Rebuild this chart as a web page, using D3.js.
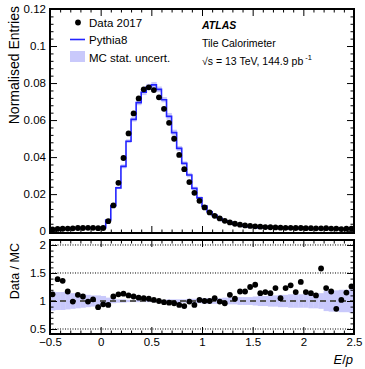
<!DOCTYPE html>
<html>
<head>
<meta charset="utf-8">
<script src="https://cdn.jsdelivr.net/npm/d3@7"></script>
<style>
  html, body { margin: 0; padding: 0; background: #fff; }
  svg { display: block; font-family: 'Liberation Sans', Arial, Helvetica, sans-serif; }
</style>
</head>
<body>
<div id="app"></div>
<script>
// E/p binning: 60 bins of 0.05 from -0.5 to 2.5
const binLow = -0.5
const binWidth = 0.05

// Pythia8 MC, normalised entries per bin
const mcValues = [
  0.0009, 0.0009, 0.0010, 0.0012, 0.0015, 0.0015, 0.0016, 0.0018, 0.0017, 0.0018, 0.0018,
  0.0060, 0.0137, 0.0234, 0.0350, 0.0486, 0.0604, 0.0694, 0.0750, 0.0780, 0.0790,
  0.0766, 0.0710, 0.0620, 0.0532, 0.0447, 0.0366, 0.0303, 0.0231, 0.0180,
  0.0135, 0.0105, 0.0085, 0.0068, 0.0056, 0.0048, 0.0037, 0.0033, 0.0027, 0.0024,
  0.0021, 0.0019, 0.0019, 0.0018, 0.0017, 0.0016, 0.0016, 0.0015, 0.0014, 0.0014,
  0.0013, 0.0013, 0.0013, 0.0013, 0.0012, 0.0012, 0.0012, 0.0012, 0.0012, 0.0011
]

// Data 2017
const dataValues = [
  0.0010, 0.0012, 0.0013, 0.0014, 0.0015, 0.0017, 0.0017, 0.0018, 0.0018, 0.0016, 0.0017,
  0.0054, 0.0139, 0.0261, 0.0395, 0.0528, 0.0636, 0.0717, 0.0766, 0.0777, 0.0762,
  0.0723, 0.0661, 0.0585, 0.0499, 0.0412, 0.0335, 0.0265, 0.0207, 0.0164,
  0.0128, 0.0101, 0.0083, 0.0069, 0.0056, 0.0047, 0.0040, 0.0035, 0.0031, 0.0028,
  0.0026, 0.0024, 0.0022, 0.0021, 0.0020, 0.0019, 0.0018, 0.0018, 0.0017, 0.0017,
  0.0016, 0.0016, 0.0015, 0.0015, 0.0016, 0.0014, 0.0014, 0.0011, 0.0013, 0.0014
]

// Data / MC
const ratioValues = [
  1.12, 1.39, 1.36, 1.17, 0.99, 1.11, 1.08, 0.99, 1.03, 0.89,
  0.94, 0.93, 1.08, 1.12, 1.13, 1.10, 1.08, 1.06, 1.05, 1.04,
  1.02, 1.00, 0.98, 0.97, 0.96, 0.93, 0.91, 0.99, 0.93, 1.02,
  1.00, 1.00, 1.05, 0.99, 0.96, 1.11, 1.04, 1.17, 1.17, 1.25,
  1.29, 1.14, 1.16, 1.14, 1.23, 1.05, 1.23, 1.28, 1.16, 1.34,
  1.16, 1.14, 1.10, 1.58, 1.23, 1.17, 0.86, 1.02, 1.15, 1.26
]

// MC stat. uncertainty (relative)
const relUnc = [
  0.17, 0.16, 0.16, 0.15, 0.14, 0.13, 0.12, 0.11, 0.10, 0.10, 0.09,
  0.06, 0.04, 0.03, 0.03, 0.02, 0.02, 0.02, 0.02, 0.02,
  0.02, 0.02, 0.02, 0.03, 0.03, 0.03, 0.03, 0.04, 0.04, 0.04,
  0.05, 0.05, 0.05, 0.05, 0.06, 0.06, 0.06, 0.07, 0.07, 0.07,
  0.08, 0.09, 0.09, 0.10, 0.10, 0.11, 0.11, 0.12, 0.12, 0.12,
  0.12, 0.13, 0.13, 0.14, 0.18, 0.19, 0.19, 0.20, 0.20, 0.21
]

const xTicks = [-0.5, 0, 0.5, 1, 1.5, 2, 2.5]
const xTickLabels = ['\u22120.5', '0', '0.5', '1', '1.5', '2', '2.5']
const yTopTicks = [0, 0.02, 0.04, 0.06, 0.08, 0.1, 0.12]
const yTopTickLabels = ['0', '0.02', '0.04', '0.06', '0.08', '0.1', '0.12']
const yRatioTicks = [0.5, 1, 1.5, 2]
const yRatioTickLabels = ['0.5', '1', '1.5', '2']

const W = 365, H = 369
const left = 50, right = 354
const top1 = 9, bot1 = 233
const top2 = 240, bot2 = 334

const bandColor = '#c9c9fb'
const mcColor = '#2424ff'

const bins = mcValues.map((mc, i) => ({
  lo: binLow + i * binWidth,
  hi: binLow + (i + 1) * binWidth,
  mid: binLow + (i + 0.5) * binWidth,
  mc,
  data: dataValues[i],
  ratio: ratioValues[i],
  unc: relUnc[i]
}))

const x = d3.scaleLinear().domain([-0.5, 2.5]).range([left, right])
const yTop = d3.scaleLinear().domain([-0.001, 0.12]).range([bot1, top1])
const yRat = d3.scaleLinear().domain([0.411, 2.089]).range([bot2, top2])

const svg = d3.select('#app').append('svg').attr('width', W).attr('height', H)

// ---------- top panel ----------
const p1 = svg.append('g')

p1.append('g')
  .selectAll('rect')
  .data(bins)
  .join('rect')
  .attr('x', d => x(d.lo))
  .attr('width', d => x(d.hi) - x(d.lo) + 0.3)
  .attr('y', d => yTop(d.mc * (1 + d.unc)))
  .attr('height', d => Math.max(1.5, yTop(d.mc * (1 - d.unc)) - yTop(d.mc * (1 + d.unc))))
  .attr('fill', bandColor)

const stepPts = bins.map(d => [d.lo, d.mc]).concat([[2.5, mcValues[mcValues.length - 1]]])
p1.append('path')
  .attr('d', d3.line().x(d => x(d[0])).y(d => yTop(d[1])).curve(d3.curveStepAfter)(stepPts))
  .attr('fill', 'none')
  .attr('stroke', mcColor)
  .attr('stroke-width', 1.6)

p1.append('g')
  .selectAll('circle')
  .data(bins)
  .join('circle')
  .attr('cx', d => x(d.mid))
  .attr('cy', d => yTop(d.data))
  .attr('r', 2.9)
  .attr('fill', '#000')

// ---------- ratio panel ----------
const p2 = svg.append('g')

p2.append('g')
  .selectAll('rect')
  .data(bins)
  .join('rect')
  .attr('x', d => x(d.lo))
  .attr('width', d => x(d.hi) - x(d.lo) + 0.3)
  .attr('y', d => yRat(1 + d.unc))
  .attr('height', d => yRat(1 - d.unc) - yRat(1 + d.unc))
  .attr('fill', bandColor)

p2.append('g')
  .selectAll('line')
  .data([0.5, 1.5, 2])
  .join('line')
  .attr('x1', left).attr('x2', right)
  .attr('y1', d => yRat(d)).attr('y2', d => yRat(d))
  .attr('stroke', '#000')
  .attr('stroke-width', 1)
  .attr('stroke-dasharray', '1,1.5')

p2.append('line')
  .attr('x1', left).attr('x2', right)
  .attr('y1', yRat(1)).attr('y2', yRat(1))
  .attr('stroke', '#555')
  .attr('stroke-width', 2)
  .attr('stroke-dasharray', '6,4')

p2.append('g')
  .selectAll('circle')
  .data(bins)
  .join('circle')
  .attr('cx', d => x(d.mid))
  .attr('cy', d => yRat(d.ratio))
  .attr('r', 2.9)
  .attr('fill', '#000')

// ---------- axes (ticks pointing inward) ----------
function minorTicks(lo, hi, step, majors) {
  return d3.range(Math.round((hi - lo) / step) + 1)
    .map(i => +(lo + i * step).toFixed(4))
    .filter(v => !majors.some(m => Math.abs(m - v) < 1e-6))
}

function drawAxis(g, axisFn, scale, majors, labels, minorStep, dom, pos, size, withLabels) {
  const major = axisFn(scale).tickValues(majors).tickSizeOuter(0).tickSizeInner(-size)
    .tickPadding(4)
    .tickFormat((d, i) => (withLabels ? labels[i] : ''))
  const minor = axisFn(scale).tickValues(minorTicks(dom[0], dom[1], minorStep, majors))
    .tickSizeOuter(0).tickSizeInner(-size / 2).tickFormat('')
  const a = g.append('g').attr('transform', pos).call(major)
  g.append('g').attr('transform', pos).call(minor).select('.domain').remove()
  a.select('.domain').remove()
  return a
}

const axes = svg.append('g').attr('font-size', 11)

// top panel
drawAxis(axes, d3.axisBottom, x, xTicks, xTickLabels, 0.1, [-0.5, 2.5], `translate(0,${bot1})`, 7, false)
drawAxis(axes, d3.axisTop, x, xTicks, xTickLabels, 0.1, [-0.5, 2.5], `translate(0,${top1})`, 7, false)
drawAxis(axes, d3.axisLeft, yTop, yTopTicks, yTopTickLabels, 0.004, [0, 0.12], `translate(${left},0)`, 7, true)
drawAxis(axes, d3.axisRight, yTop, yTopTicks, yTopTickLabels, 0.004, [0, 0.12], `translate(${right},0)`, 7, false)

// ratio panel
drawAxis(axes, d3.axisBottom, x, xTicks, xTickLabels, 0.1, [-0.5, 2.5], `translate(0,${bot2})`, 7, true)
drawAxis(axes, d3.axisTop, x, xTicks, xTickLabels, 0.1, [-0.5, 2.5], `translate(0,${top2})`, 7, false)
drawAxis(axes, d3.axisLeft, yRat, yRatioTicks, yRatioTickLabels, 0.1, [0.5, 2], `translate(${left},0)`, 7, true)
drawAxis(axes, d3.axisRight, yRat, yRatioTicks, yRatioTickLabels, 0.1, [0.5, 2], `translate(${right},0)`, 7, false)

axes.selectAll('.tick line').attr('stroke', '#000').attr('stroke-width', 1)
axes.selectAll('.tick text').attr('fill', '#000').attr('font-size', 11.5)

// frames
svg.append('rect').attr('x', left).attr('y', top1).attr('width', right - left).attr('height', bot1 - top1)
  .attr('fill', 'none').attr('stroke', '#000').attr('stroke-width', 2)
svg.append('rect').attr('x', left).attr('y', top2).attr('width', right - left).attr('height', bot2 - top2)
  .attr('fill', 'none').attr('stroke', '#000').attr('stroke-width', 2)

// ---------- titles ----------
svg.append('text')
  .attr('transform', `translate(19,6) rotate(-90)`)
  .attr('text-anchor', 'end')
  .attr('font-size', 14)
  .text('Normalised Entries')

svg.append('text')
  .attr('transform', `translate(19,243) rotate(-90)`)
  .attr('text-anchor', 'end')
  .attr('font-size', 12.5)
  .text('Data / MC')

const xt = svg.append('text')
  .attr('x', 353).attr('y', 364)
  .attr('text-anchor', 'end')
  .attr('font-size', 13)
  .attr('font-style', 'italic')
xt.append('tspan').text('E')
xt.append('tspan').attr('font-style', 'normal').text('/')
xt.append('tspan').text('p')

// ---------- legend ----------
const leg = svg.append('g').attr('font-size', 11.5)
leg.append('circle').attr('cx', 78).attr('cy', 22.5).attr('r', 2.9).attr('fill', '#000')
leg.append('text').attr('x', 89).attr('y', 26.5).text('Data 2017')
leg.append('line').attr('x1', 70).attr('x2', 85).attr('y1', 39.5).attr('y2', 39.5)
  .attr('stroke', mcColor).attr('stroke-width', 1.6)
leg.append('text').attr('x', 89).attr('y', 44).text('Pythia8')
leg.append('rect').attr('x', 70).attr('y', 51).attr('width', 15).attr('height', 11).attr('fill', bandColor)
leg.append('text').attr('x', 89).attr('y', 61.5).text('MC stat. uncert.')

// ---------- ATLAS label ----------
const lab = svg.append('g').attr('font-size', 10.5)
lab.append('text').attr('x', 202).attr('y', 28.5)
  .attr('font-weight', 'bold').attr('font-style', 'italic').text('ATLAS')
lab.append('text').attr('x', 202).attr('y', 46.5).text('Tile Calorimeter')
const sq = lab.append('text').attr('x', 202).attr('y', 64.5)
sq.append('tspan').text('\u221As = 13 TeV, 144.9 pb')
sq.append('tspan').attr('dy', -5).attr('font-size', 7.5).text(' -1')
</script>
</body>
</html>
